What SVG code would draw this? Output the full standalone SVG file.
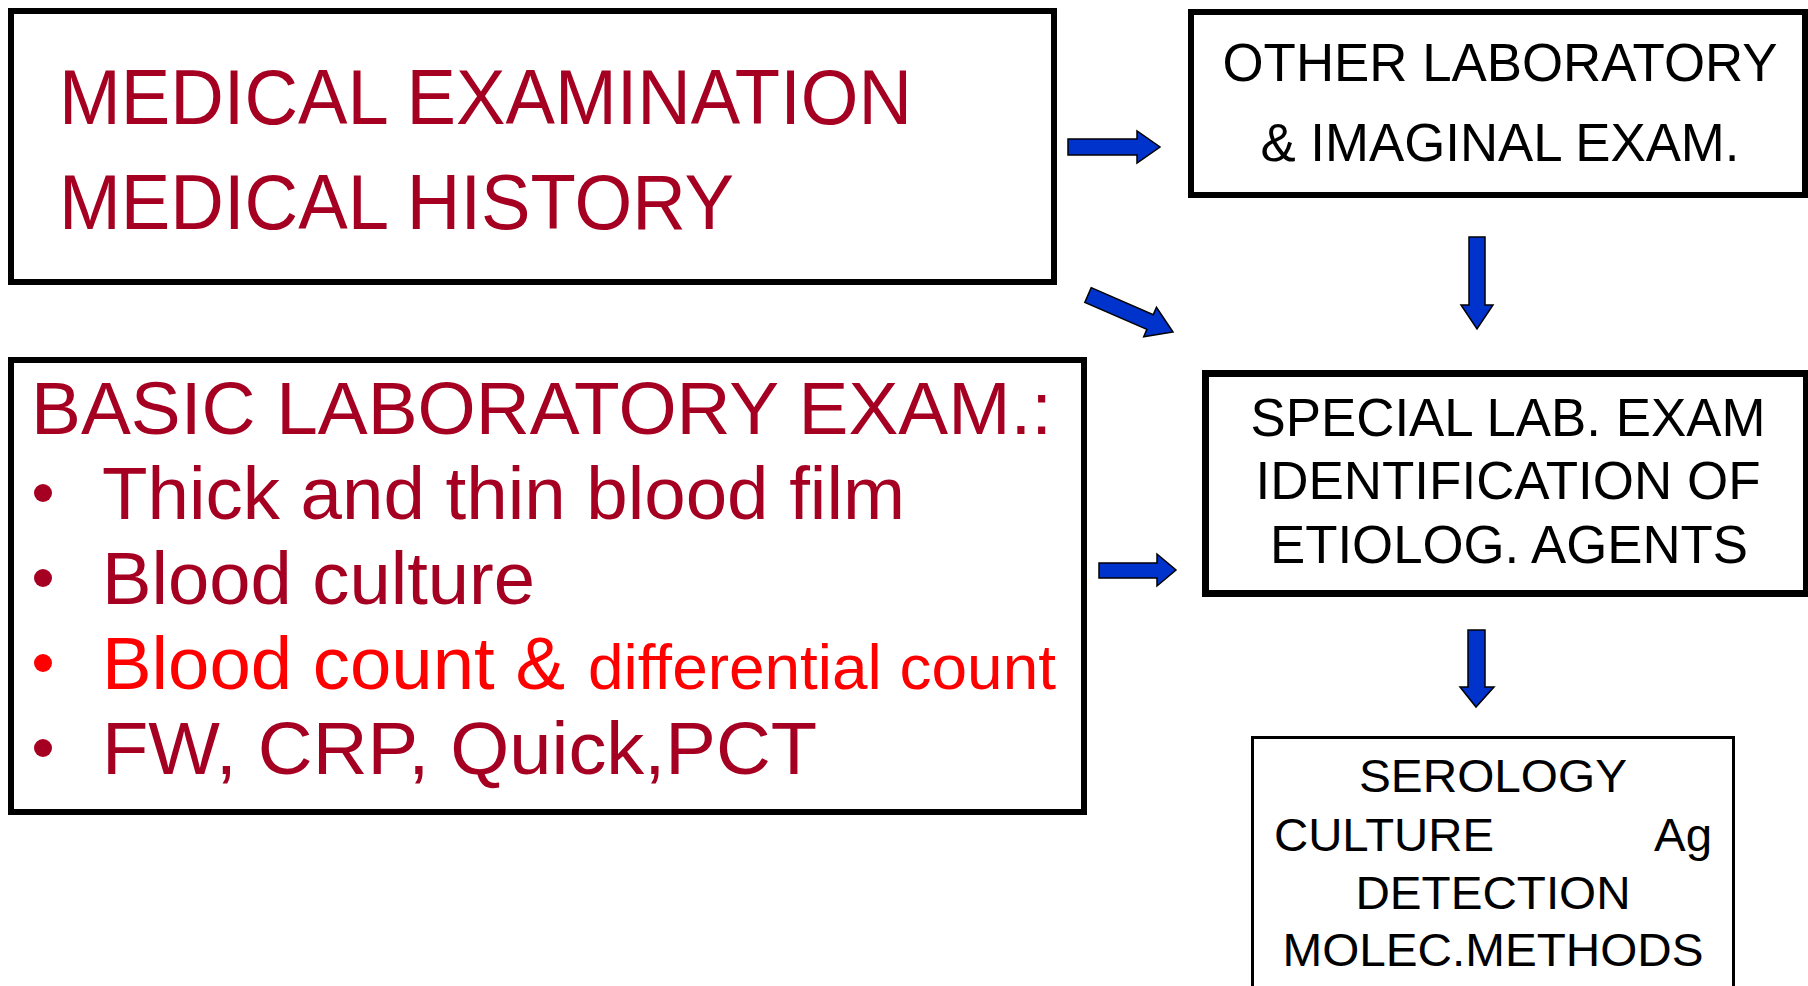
<svg xmlns="http://www.w3.org/2000/svg" width="1808" height="986" viewBox="0 0 1808 986">
<style>
.box{fill:#fff;stroke:#000}
.t{font-family:"Liberation Sans",Arial,sans-serif}
.dr{fill:#A50021}
.rd{fill:#FF0000}
.bk{fill:#000}
.arr{fill:#0033CC;stroke:#000;stroke-width:1.5;stroke-linejoin:miter}
</style>
<rect width="1808" height="986" fill="#fff"/>
<g id="connectors">
<polygon class="arr" points="1068,139 1137,139 1137,131 1160,147 1137,163 1137,155 1068,155"/>
<polygon class="arr" transform="translate(1088,295) rotate(23.5)" points="0,-8 67.7,-8 67.7,-16 92.7,0 67.7,16 67.7,8 0,8"/>
<polygon class="arr" points="1469,237 1485,237 1485,305 1493,305 1477,329 1461,305 1469,305"/>
<polygon class="arr" points="1099,563 1157,563 1157,554 1176,570 1157,586 1157,578 1099,578"/>
<polygon class="arr" points="1468,630 1485,630 1485,687 1494,687 1476,707 1460,687 1468,687"/>
</g>
<g id="medical">
<rect class="box" x="11" y="11" width="1043" height="271" stroke-width="6"/>
<text class="t dr" x="59" y="124" font-size="77" textLength="853" lengthAdjust="spacingAndGlyphs">MEDICAL EXAMINATION</text>
<text class="t dr" x="59" y="229" font-size="77" textLength="675" lengthAdjust="spacingAndGlyphs">MEDICAL HISTORY</text>
</g>
<g id="other">
<rect class="box" x="1191" y="12" width="614" height="183" stroke-width="6"/>
<text class="t bk" x="1500" y="81" font-size="54" text-anchor="middle" textLength="555" lengthAdjust="spacingAndGlyphs">OTHER LABORATORY</text>
<text class="t bk" x="1500" y="161" font-size="54" text-anchor="middle" textLength="479" lengthAdjust="spacingAndGlyphs">&amp; IMAGINAL EXAM.</text>
</g>
<g id="basic">
<rect class="box" x="11" y="360" width="1073" height="452" stroke-width="6"/>
<text class="t dr" x="31" y="434" font-size="75" textLength="1021" lengthAdjust="spacingAndGlyphs">BASIC LABORATORY EXAM.:</text>
<circle class="dr" cx="43" cy="493" r="9"/>
<circle class="dr" cx="43" cy="578" r="9"/>
<circle class="rd" cx="43" cy="663" r="9"/>
<circle class="dr" cx="43" cy="748" r="9"/>
<text class="t dr" x="102" y="519" font-size="75" textLength="803" lengthAdjust="spacingAndGlyphs">Thick and thin blood film</text>
<text class="t dr" x="102" y="604" font-size="75" textLength="433" lengthAdjust="spacingAndGlyphs">Blood culture</text>
<text class="t rd" x="102" y="689" font-size="75" textLength="463" lengthAdjust="spacingAndGlyphs">Blood count &amp;</text>
<text class="t rd" x="588" y="689" font-size="63" textLength="468" lengthAdjust="spacingAndGlyphs">differential count</text>
<text class="t dr" x="102" y="774" font-size="75" textLength="715" lengthAdjust="spacingAndGlyphs">FW, CRP, Quick,PCT</text>
</g>
<g id="special">
<rect class="box" x="1205.5" y="373.5" width="601" height="220" stroke-width="7"/>
<text class="t bk" x="1508" y="436" font-size="54" text-anchor="middle" textLength="515" lengthAdjust="spacingAndGlyphs">SPECIAL LAB. EXAM</text>
<text class="t bk" x="1508" y="499" font-size="54" text-anchor="middle" textLength="505" lengthAdjust="spacingAndGlyphs">IDENTIFICATION OF</text>
<text class="t bk" x="1509" y="563" font-size="54" text-anchor="middle" textLength="478" lengthAdjust="spacingAndGlyphs">ETIOLOG. AGENTS</text>
</g>
<g id="serology">
<rect class="box" x="1252.5" y="737.5" width="481" height="260" stroke-width="3"/>
<text class="t bk" x="1493" y="792" font-size="46" text-anchor="middle" textLength="268" lengthAdjust="spacingAndGlyphs">SEROLOGY</text>
<text class="t bk" x="1274" y="851" font-size="46" textLength="220" lengthAdjust="spacingAndGlyphs">CULTURE</text>
<text class="t bk" x="1654" y="851" font-size="46" textLength="58" lengthAdjust="spacingAndGlyphs">Ag</text>
<text class="t bk" x="1493" y="909" font-size="46" text-anchor="middle" textLength="275" lengthAdjust="spacingAndGlyphs">DETECTION</text>
<text class="t bk" x="1493" y="966" font-size="46" text-anchor="middle" textLength="421" lengthAdjust="spacingAndGlyphs">MOLEC.METHODS</text>
</g>
</svg>
